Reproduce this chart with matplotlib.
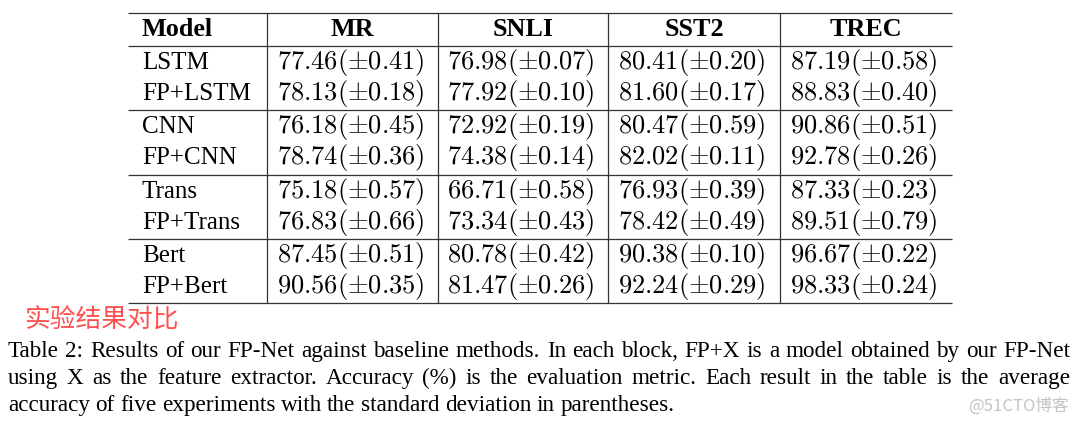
import matplotlib

matplotlib.use("Agg")
import matplotlib.pyplot as plt

plt.rcParams.update({"mathtext.fontset": "cm", "font.family": "Liberation Serif"})

# table data
header = ["Model", "MR", "SNLI", "SST2", "TREC"]
models = ["LSTM", "FP+LSTM", "CNN", "FP+CNN", "Trans", "FP+Trans", "Bert", "FP+Bert"]
mr = [(77.46, 0.41), (78.13, 0.18), (76.18, 0.45), (78.74, 0.36),
      (75.18, 0.57), (76.83, 0.66), (87.45, 0.51), (90.56, 0.35)]
snli = [(76.98, 0.07), (77.92, 0.10), (72.92, 0.19), (74.38, 0.14),
        (66.71, 0.58), (73.34, 0.43), (80.78, 0.42), (81.47, 0.26)]
sst2 = [(80.41, 0.20), (81.60, 0.17), (80.47, 0.59), (82.02, 0.11),
        (76.93, 0.39), (78.42, 0.49), (90.38, 0.10), (92.24, 0.29)]
trec = [(87.19, 0.58), (88.83, 0.40), (90.86, 0.51), (92.78, 0.26),
        (87.33, 0.23), (89.51, 0.79), (96.67, 0.22), (98.33, 0.24)]

note = "实验结果对比"
caption = [
    "Table 2: Results of our FP-Net against baseline methods. In each block, FP+X is a model obtained by our FP-Net",
    "using X as the feature extractor.  Accuracy (%) is the evaluation metric.  Each result in the table is the average",
    "accuracy of five experiments with the standard deviation in parentheses.",
]
watermark = "@51CTO博客"

# layout (pixels)
W, H = 1080, 424
col_edges = [128, 267, 438, 608, 780, 952]
top_y, head_y = 13, 46
block_h = 64.3
line_kw = dict(color="#333333", lw=0.9)

fig = plt.figure(figsize=(W / 100, H / 100), dpi=100)
ax = fig.add_axes([0, 0, 1, 1])
ax.set_xlim(0, W)
ax.set_ylim(H, 0)
ax.axis("off")

# rules
ax.hlines([top_y, head_y], col_edges[0], col_edges[-1], **line_kw)
n_blocks = len(models) // 2
block_lines = [head_y + (b + 1) * block_h for b in range(n_blocks)]
ax.hlines(block_lines, col_edges[0], col_edges[-1], **line_kw)
ax.vlines(col_edges[1:-1], top_y, block_lines[-1], **line_kw)

# header
hy = 36
ax.text(col_edges[0] + 14, hy, header[0], fontsize=18.8, fontweight="bold",
        ha="left", va="baseline")
for j, name in enumerate(header[1:], start=1):
    ax.text((col_edges[j] + col_edges[j + 1]) / 2, hy, name, fontsize=18.8,
            fontweight="bold", ha="center", va="baseline")

# body
columns = [mr, snli, sst2, trec]
for i, m in enumerate(models):
    y = head_y + (i // 2) * block_h + 23 + (i % 2) * 31
    ax.text(col_edges[0] + 14, y, m, fontsize=18, ha="left", va="baseline")
    for j, col in enumerate(columns, start=1):
        v, s = col[i]
        ax.text((col_edges[j] + col_edges[j + 1]) / 2 - 2, y,
                rf"${v:.2f}(\pm{s:.2f})$", fontsize=19, ha="center",
                va="baseline")

# red note
ax.text(24, 321, note, fontsize=18.5, color="#ff5050", ha="left", va="center",
        family=["Noto Sans CJK SC", "DejaVu Sans"])

# justified caption
fig.canvas.draw()
renderer = fig.canvas.get_renderer()
x0, x1 = 8, 1070
cap_y = [357, 384, 411]
for k, line in enumerate(caption):
    words = [w for w in line.split(" ") if w]
    texts = [ax.text(0, cap_y[k], w, fontsize=16.7, ha="left", va="baseline")
             for w in words]
    widths = [t.get_window_extent(renderer).width for t in texts]
    if k < len(caption) - 1:
        gap = (x1 - x0 - sum(widths)) / (len(words) - 1)
    else:
        gap = 5.4
    x = x0
    for t, w in zip(texts, widths):
        t.set_x(x)
        x += w + gap

ax.text(1069, 406, watermark, fontsize=12, color="#c4c4c4", ha="right",
        va="center", family=["Noto Sans CJK SC", "DejaVu Sans"])

fig.savefig("out.png", dpi=100)
